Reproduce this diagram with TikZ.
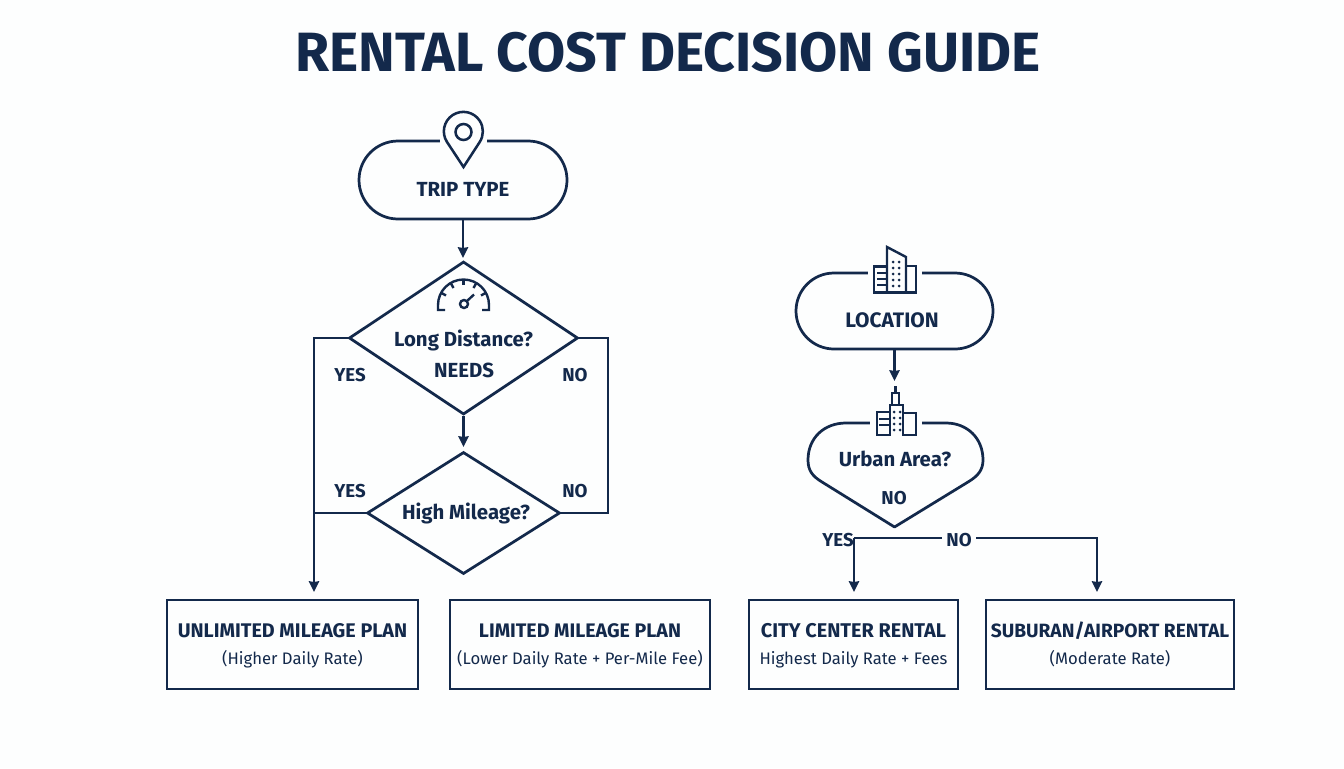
\documentclass[tikz,border=0pt]{standalone}
\usepackage{fontspec}
\setmainfont{Fira Sans}
\usetikzlibrary{arrows.meta,positioning,shapes.geometric,shapes.misc}
\definecolor{navy}{HTML}{13294B}
\definecolor{paper}{HTML}{FDFEFE}
\tikzset{
flowline/.style={navy, line width=2.05pt},
arr/.style={flowline, -{Stealth[length=8pt,width=7.5pt,inset=0.5pt]}},
startbox/.style={flowline, draw, rounded rectangle, inner sep=0pt},
decision/.style={flowline, draw, diamond, aspect=1.5, inner sep=0pt},
planbox/.style={flowline, draw, rectangle, inner sep=0pt, align=center, text=navy},
lbl/.style={text=navy, font=\fontsize{15.3}{17}\selectfont\bfseries, inner sep=0pt},
branch/.style={lbl, font=\fontsize{14}{16}\selectfont\bfseries},
gapfill/.style={fill=paper, draw=none},
icon/.style={navy, line width=1.8pt, line join=miter},
}
\newcommand{\plantext}[3]{{\fontsize{#1}{16}\selectfont\bfseries\rule{0pt}{15pt}#2\strut}\\[3.2pt]{\fontsize{12.5}{16}\selectfont #3\strut}}
\begin{document}
\begin{tikzpicture}[x=0.75pt, y=-0.75pt]
    \fill[paper] (0,0) rectangle (1344,768);
    \node[text=navy, font=\fontsize{41.5}{48}\selectfont\bfseries, inner sep=0pt] (title) at (668,52) {RENTAL COST DECISION GUIDE};

    % left branch
    \node[startbox, minimum width=156pt, minimum height=58.5pt] (trip) at (463,180) {};
    \node[lbl] (tripText) at (463,189) {TRIP TYPE};
    \node[decision, minimum width=171.75pt, minimum height=114.75pt] (longDist) at (463.5,338) {};
    \node[lbl] (longText) at (463.5,340) {Long Distance?};
    \node[lbl] (needsText) at (464,370) {NEEDS};
    \node[decision, minimum width=144.75pt, minimum height=91.5pt] (highMile) at (463.5,513) {};
    \node[lbl] (highText) at (466,513) {High Mileage?};

    \node[planbox, minimum width=188.25pt, minimum height=66.75pt] (unlimited) at (292.5,644.5) {\plantext{14.8}{UNLIMITED MILEAGE PLAN}{(Higher Daily Rate)}};
    \node[planbox, minimum width=195pt, minimum height=66.75pt] (limited) at (580,644.5) {\plantext{14.7}{LIMITED MILEAGE PLAN}{(Lower Daily Rate + Per-Mile Fee)}};

    \coordinate (yesCorner) at (314,338);
    \coordinate (yesEnd) at (314,592);
    \coordinate (noCornerTop) at (608,338);
    \coordinate (noCornerLow) at (608,513);
    \coordinate (yesJoin) at (314,513);

    \draw[arr] (trip.south) -- (463,258);
    \draw[arr] (longDist.south) -- (463.5,447);
    \draw[arr] (longDist.west) -- (yesCorner) -- (yesEnd);
    \draw[flowline] (highMile.west) -- (yesJoin);
    \draw[flowline] (longDist.east) -- (noCornerTop) -- (noCornerLow) -- (highMile.east);

    \node[branch] (yesA) at (350,375) {YES};
    \node[branch] (noA) at (575,375) {NO};
    \node[branch] (yesB) at (350,491) {YES};
    \node[branch] (noB) at (575,491) {NO};

    % pin icon
    \fill[gapfill] (440,130) rectangle (487,152);
    \draw[icon, line width=1.9pt] (463.5,167) -- (447,142) arc[start angle=147, end angle=393, radius=19.5] -- cycle;
    \draw[icon, line width=1.9pt] (463.5,132) circle[radius=8];

    % gauge icon
    \draw[icon] (445,310) -- (438,310) -- (438,305) arc[start angle=180, end angle=360, radius=25.5] -- (489,310) -- (482,310);
    \draw[icon] (463.5,280) -- (463.5,285);
    \draw[icon] (451,283.5) -- (453.5,288);
    \draw[icon] (476,283.5) -- (473.5,288);
    \draw[icon] (441.5,293) -- (446,295.5);
    \draw[icon] (485.5,293) -- (481,295.5);
    \draw[icon] (464,304) circle[radius=4];
    \draw[icon] (467,301) -- (474,294.5);

    % right branch
    \node[startbox, minimum width=147.75pt, minimum height=57pt] (location) at (894.5,311) {};
    \node[lbl, font=\fontsize{15.7}{17}\selectfont\bfseries] (locationText) at (892,320) {LOCATION};
    \node[minimum size=0pt, inner sep=0pt] (urban) at (895,475) {};
    \coordinate (urbanTip) at (894.5,527);
    \draw[flowline, line join=round] (urbanTip) -- (822,482) .. controls (812,476) and (808,470) .. (808,460) .. controls (808,438) and (824,423) .. (846,423) -- (946,423) .. controls (967,423) and (983,438) .. (983,460) .. controls (983,470) and (978,476) .. (968,482) -- cycle;
    \node[lbl] (urbanText) at (895,459) {Urban Area?};
    \node[branch] (urbanNo) at (894,498) {NO};

    \node[planbox, minimum width=156.75pt, minimum height=66.75pt] (city) at (853.5,644.5) {\plantext{14.9}{CITY CENTER RENTAL}{Highest Daily Rate + Fees}};
    \node[planbox, minimum width=186pt, minimum height=66.75pt] (suburban) at (1110,644.5) {\plantext{14.4}{SUBURAN/AIRPORT RENTAL}{(Moderate Rate)}};

    \coordinate (splitLeft) at (854,538);
    \coordinate (splitRight) at (1097,538);
    \coordinate (cityEnd) at (854,592);
    \coordinate (suburbanEnd) at (1097,592);

    \draw[arr] (location.south) -- (894.5,381);
    \draw[arr] (cityEnd |- splitLeft) -- (cityEnd);
    \draw[arr] (splitLeft) -- (splitRight) -- (suburbanEnd);
    \node[branch, fill=paper, inner xsep=3pt, inner ysep=1pt] (splitNo) at (959,540) {NO};
    \node[branch] (splitYes) at (838,540) {YES};

    % office icon
    \fill[gapfill] (868,262) rectangle (922,285);
    \draw[icon] (874,292.5) rectangle (887,266.5);
    \draw[icon] (906,266) rectangle (916,292.5);
    \draw[icon] (887,292.5) -- (887,247) -- (906,257) -- (906,292.5);
    \draw[icon] (874,292.5) -- (916,292.5);
    \draw[icon, line width=1.4pt] (877,273) -- (886,273) (877,279) -- (886,279) (877,285) -- (886,285);
    \foreach \col in {893,899} \foreach \row in {262,268,274,280,286}
        \fill[navy] (\col,\row) circle[radius=1.5];

    % tower icon
    \fill[gapfill] (870,412) rectangle (922,430);
    \draw[icon] (877,435) rectangle (890,412);
    \draw[icon] (903,413) rectangle (916,435);
    \draw[icon] (890,435) -- (890,405) -- (903,405) -- (903,435);
    \draw[icon] (892,405) -- (892,393) -- (899,393) -- (899,405);
    \fill[navy] (894,386) rectangle (897,393);
    \draw[icon, line width=1.4pt] (879,419) -- (889,419) (879,425) -- (889,425);
    \foreach \col in {894,900} \foreach \row in {412,418,424,430}
        \fill[navy] (\col,\row) circle[radius=1.5];
\end{tikzpicture}
\end{document}
